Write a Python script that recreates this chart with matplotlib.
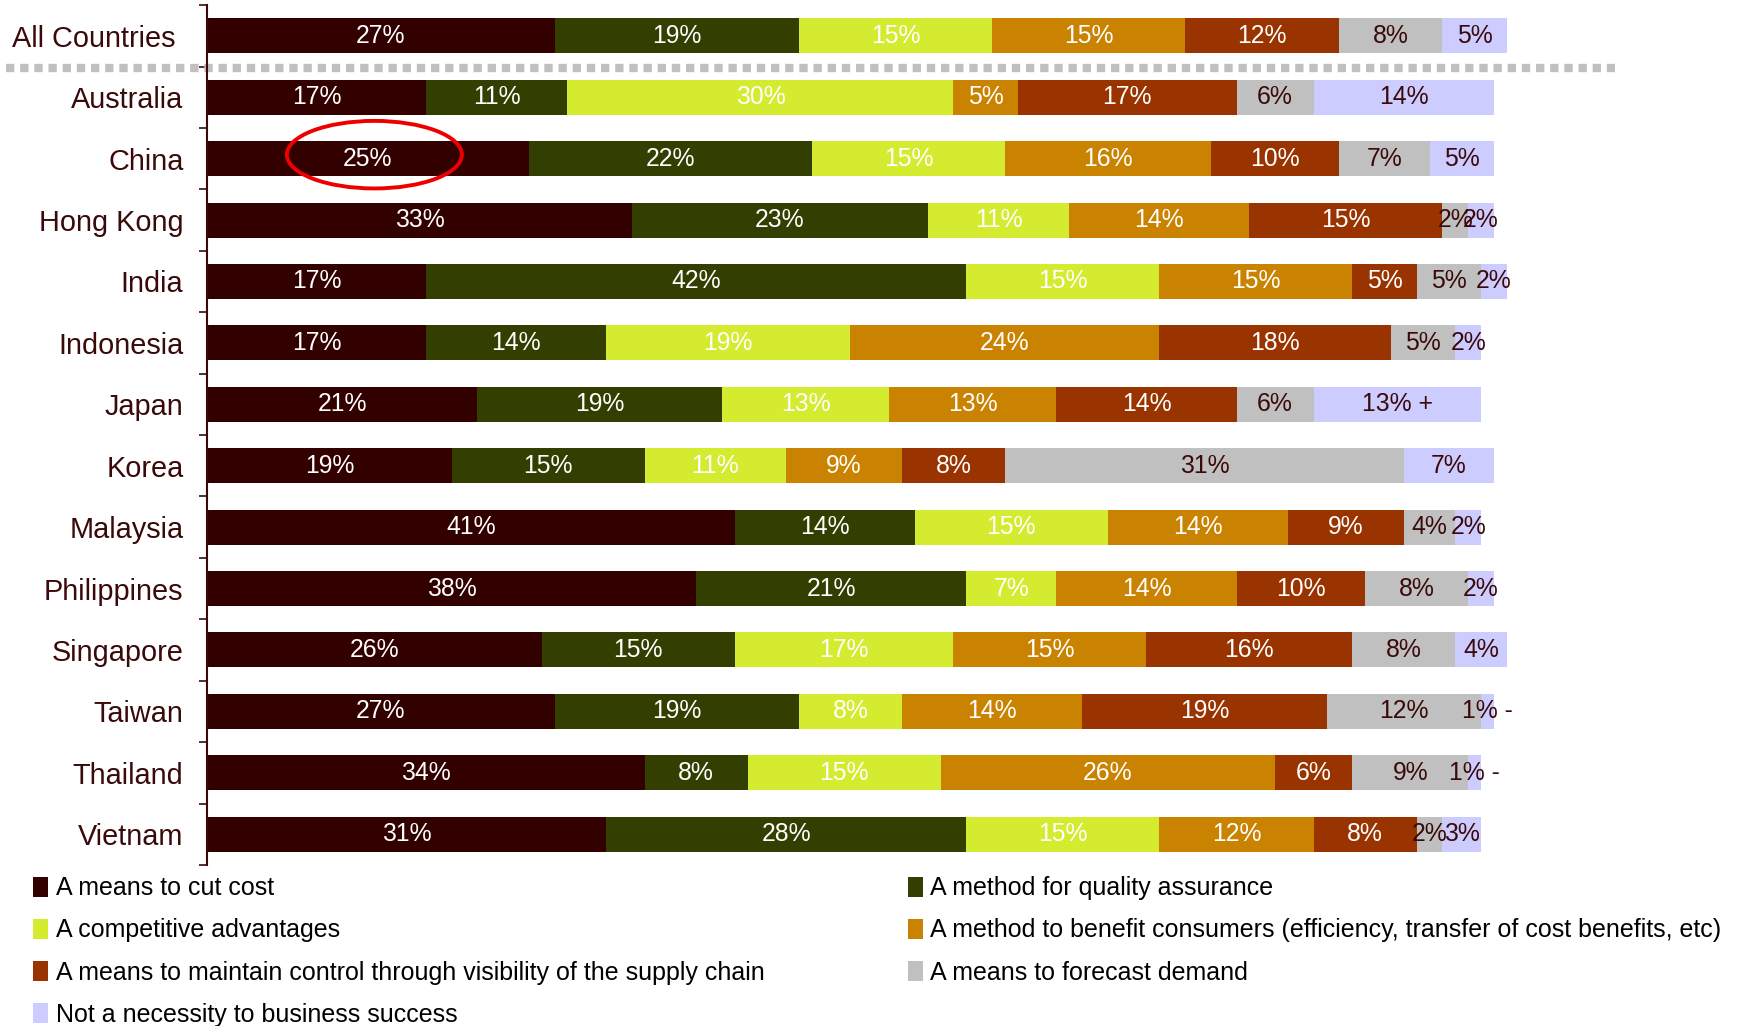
import matplotlib
matplotlib.use('Agg')
import matplotlib.pyplot as plt
import matplotlib.transforms as mtransforms
from matplotlib.patches import Ellipse, Patch
import numpy as np

plt.rcParams['font.family'] = ['Liberation Sans', 'DejaVu Sans']

# data
countries = ['All Countries', 'Australia', 'China', 'Hong Kong', 'India', 'Indonesia',
             'Japan', 'Korea', 'Malaysia', 'Philippines', 'Singapore', 'Taiwan',
             'Thailand', 'Vietnam']
series = ['A means to cut cost',
          'A method for quality assurance',
          'A competitive advantages',
          'A method to benefit consumers (efficiency, transfer of cost benefits, etc)',
          'A means to maintain control through visibility of the supply chain',
          'A means to forecast demand',
          'Not a necessity to business success']
cut_cost = [27, 17, 25, 33, 17, 17, 21, 19, 41, 38, 26, 27, 34, 31]
quality = [19, 11, 22, 23, 42, 14, 19, 15, 14, 21, 15, 19, 8, 28]
competitive = [15, 30, 15, 11, 15, 19, 13, 11, 15, 7, 17, 8, 15, 15]
consumers = [15, 5, 16, 14, 15, 24, 13, 9, 14, 14, 15, 14, 26, 12]
control = [12, 17, 10, 15, 5, 18, 14, 8, 9, 10, 16, 19, 6, 8]
forecast = [8, 6, 7, 2, 5, 5, 6, 31, 4, 8, 8, 12, 9, 2]
not_needed = [5, 14, 5, 2, 2, 2, 13, 7, 2, 2, 4, 1, 1, 3]
# a few labels carry an extra mark in the original
label_extra = {('Japan', 6): ' +', ('Taiwan', 6): ' -', ('Thailand', 6): ' -'}

values = [cut_cost, quality, competitive, consumers, control, forecast, not_needed]
colors = ['#330000', '#333F00', '#D4EB2F', '#C98300', '#993300', '#C0C0C0', '#CCCCFF']
text_colors = ['white'] * 5 + ['#3A0A0A'] * 2

fig = plt.figure(figsize=(17.46, 10.26), dpi=100)
ax = fig.add_axes([0.1186, 0.157, 0.866, 0.838])

y = np.arange(len(countries))
left = np.zeros(len(countries))
for i, vals in enumerate(values):
	vals = np.array(vals, dtype=float)
	ax.barh(y, vals, left=left, height=0.57, color=colors[i], label=series[i])
	for j, v in enumerate(vals):
		txt = f'{int(v)}%' + label_extra.get((countries[j], i), '')
		ax.text(left[j] + v / 2, y[j], txt, ha='center', va='center',
				color=text_colors[i], fontsize=17.8)
	left += vals

ax.set_xlim(0, 117.5)
ax.set_ylim(len(countries) - 0.5, -0.5)
ax.set_xticks([])
ax.set_yticks(y)
ax.set_yticklabels(countries, fontsize=20.8, color='#3A0A0A')
ax.tick_params(axis='y', which='major', length=0, pad=17)
ax.set_yticks(np.arange(len(countries) + 1) - 0.5, minor=True)
ax.tick_params(axis='y', which='minor', length=6, width=1.2, color='#3A0A0A')
# the "All Countries" label sits a little further left than the rest
lbl = ax.get_yticklabels()[0]
lbl.set_transform(lbl.get_transform() + mtransforms.ScaledTranslation(-0.08, 0, fig.dpi_scale_trans))
for s in ['top', 'right', 'bottom']:
	ax.spines[s].set_visible(False)
ax.spines['left'].set_color('#3A0A0A')
ax.spines['left'].set_linewidth(1.5)

# dotted separator below the "All Countries" row
ax.plot([-15.6, 109.4], [0.53, 0.53], color='#C0C0C0', lw=6,
		dashes=(1.0, 0.7), solid_capstyle='butt', dash_capstyle='butt', clip_on=False)

# red ellipse highlighting China's cut-cost share
china = countries.index('China')
ax.add_patch(Ellipse((cut_cost[china] / 2 + 0.5, china - 0.065), 13.6, 1.1, fill=False,
					 edgecolor='#EE0000', lw=2.8, clip_on=False))

handles = [Patch(facecolor=c, edgecolor='none') for c in colors]
left_idx = [0, 2, 4, 6]
right_idx = [1, 3, 5]
kw = dict(frameon=False, fontsize=18, handlelength=0.6, handleheight=0.85,
		  handletextpad=0.3, labelspacing=0.73, borderaxespad=0, borderpad=0)
fig.legend([handles[i] for i in left_idx], [series[i] for i in left_idx],
		   loc='upper left', bbox_to_anchor=(0.019, 0.146), **kw)
fig.legend([handles[i] for i in right_idx], [series[i] for i in right_idx],
		   loc='upper left', bbox_to_anchor=(0.52, 0.146), **kw)

fig.savefig('out.png', dpi=100)
